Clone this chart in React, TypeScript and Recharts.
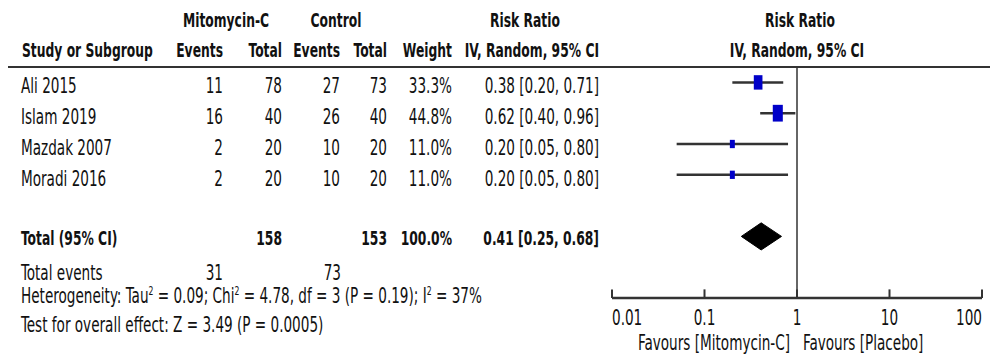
import React from 'react';
import {
  ComposedChart,
  XAxis,
  YAxis,
  Scatter,
  ErrorBar,
  Area,
  ReferenceLine,
} from 'recharts';

// study rows
const studies = ['Ali 2015', 'Islam 2019', 'Mazdak 2007', 'Moradi 2016'];
const mmcEvents = [11, 16, 2, 2];
const mmcTotal = [78, 40, 20, 20];
const ctrlEvents = [27, 26, 10, 10];
const ctrlTotal = [73, 40, 20, 20];
const weights = [33.3, 44.8, 11.0, 11.0];
const riskRatio = [0.38, 0.62, 0.2, 0.2];
const ciLow = [0.2, 0.4, 0.05, 0.05];
const ciHigh = [0.71, 0.96, 0.8, 0.8];

// pooled result
const totalMmc = 158;
const totalCtrl = 153;
const totalWeight = '100.0%';
const totalRR = 0.41;
const totalLow = 0.25;
const totalHigh = 0.68;
const totalEventsMmc = 31;
const totalEventsCtrl = 73;

// axis
const xTicks = [0.01, 0.1, 1, 10, 100];
const xTickLabels = ['0.01', '0.1', '1', '10', '100'];

const FONT = "'DejaVu Sans Condensed', 'DejaVu Sans', sans-serif";
const INK = '#111';
const LINE = '#333';
const TOTAL_ROW = 5;
const DIAMOND_HALF = 0.44;
// the source font is a narrow one, so squeeze the text horizontally
const SX = 0.72;
const SX_BOLD = 0.685;

const fmt = (v: number) => v.toFixed(2);

const studyPoints = studies.map((s, i) => ({
  x: riskRatio[i],
  y: i,
  weight: weights[i],
  err: [riskRatio[i] - ciLow[i], ciHigh[i] - riskRatio[i]],
}));

const diamond = [
  { x: totalLow, band: [TOTAL_ROW, TOTAL_ROW] },
  { x: totalRR, band: [TOTAL_ROW - DIAMOND_HALF, TOTAL_ROW + DIAMOND_HALF] },
  { x: totalHigh, band: [TOTAL_ROW, TOTAL_ROW] },
];

const WeightBox = (props: any) => {
  const { cx, cy, payload } = props;
  const h = 2.5 * Math.sqrt(payload.weight);
  const w = h * 0.6;
  return <rect x={cx - w / 2} y={cy - h / 2} width={w} height={h} fill="#0000c8" />;
};

const T = ({ x, y, anchor = 'start', bold = false, children }: any) => (
  <text
    transform={`translate(${x} ${y}) scale(${bold ? SX_BOLD : SX} 1)`}
    x={0}
    y={0}
    textAnchor={anchor}
    fontFamily={FONT}
    fontStretch="condensed"
    fontSize={bold ? 20 : 21}
    fontWeight={bold ? 'bold' : 'normal'}
    fill={INK}
  >
    {children}
  </text>
);

const AxisTick = (props: any) => {
  const { x, y, index } = props;
  const anchor = index === 0 ? 'start' : index === xTicks.length - 1 ? 'end' : 'middle';
  return (
    <T x={x} y={y + 27} anchor={anchor}>
      {xTickLabels[index]}
    </T>
  );
};

const colEnds = [223, 282, 340, 387, 452, 599];

export default function App() {
  return (
    <div style={{ position: 'absolute', left: 0, top: 0, width: 1000, height: 363, background: '#fff' }}>
      <ComposedChart
        width={1000}
        height={363}
        margin={{ top: 67, right: 18, bottom: 0, left: 612 }}
      >
        <XAxis
          type="number"
          dataKey="x"
          scale="log"
          domain={[0.01, 100]}
          ticks={xTicks}
          allowDataOverflow
          height={65}
          tickLine={false}
          tickSize={0}
          tickMargin={0}
          axisLine={{ stroke: LINE, strokeWidth: 2.5 }}
          tick={<AxisTick />}
          interval={0}
        />
        <YAxis type="number" dataKey="y" domain={[-0.5, 7]} reversed hide allowDataOverflow />
        {xTicks.map((t) => (
          <ReferenceLine
            key={t}
            segment={[{ x: t, y: 7 }, { x: t, y: 6.72 }]}
            stroke={LINE}
            strokeWidth={2}
          />
        ))}
        <ReferenceLine x={1} stroke={LINE} strokeWidth={1.5} />
        <Area
          data={diamond}
          dataKey="band"
          type="linear"
          fill="#000"
          fillOpacity={1}
          stroke="#000"
          strokeWidth={1}
          isAnimationActive={false}
        />
        <Scatter data={studyPoints} shape={<WeightBox />} isAnimationActive={false}>
          <ErrorBar dataKey="err" direction="x" width={0} stroke={LINE} strokeWidth={2.5} />
        </Scatter>
      </ComposedChart>

      <svg
        width={1000}
        height={363}
        style={{ position: 'absolute', left: 0, top: 0, pointerEvents: 'none' }}
      >
        <T x={226} y={27} anchor="middle" bold>Mitomycin-C</T>
        <T x={336} y={27} anchor="middle" bold>Control</T>
        <T x={525} y={27} anchor="middle" bold>Risk Ratio</T>
        <T x={800} y={27} anchor="middle" bold>Risk Ratio</T>

        <T x={22} y={57} bold>Study or Subgroup</T>
        <T x={colEnds[0]} y={57} anchor="end" bold>Events</T>
        <T x={colEnds[1]} y={57} anchor="end" bold>Total</T>
        <T x={colEnds[2]} y={57} anchor="end" bold>Events</T>
        <T x={colEnds[3]} y={57} anchor="end" bold>Total</T>
        <T x={colEnds[4]} y={57} anchor="end" bold>Weight</T>
        <T x={colEnds[5]} y={57} anchor="end" bold>IV, Random, 95% CI</T>
        <T x={797} y={57} anchor="middle" bold>IV, Random, 95% CI</T>

        <line x1={8} x2={990} y1={67} y2={67} stroke={LINE} strokeWidth={2} />

        {studies.map((s, i) => {
          const y = 93 + 31 * i;
          return (
            <g key={s}>
              <T x={21} y={y}>{s}</T>
              <T x={colEnds[0]} y={y} anchor="end">{mmcEvents[i]}</T>
              <T x={colEnds[1]} y={y} anchor="end">{mmcTotal[i]}</T>
              <T x={colEnds[2]} y={y} anchor="end">{ctrlEvents[i]}</T>
              <T x={colEnds[3]} y={y} anchor="end">{ctrlTotal[i]}</T>
              <T x={colEnds[4]} y={y} anchor="end">{weights[i].toFixed(1)}%</T>
              <T x={colEnds[5]} y={y} anchor="end">
                {fmt(riskRatio[i])} [{fmt(ciLow[i])}, {fmt(ciHigh[i])}]
              </T>
            </g>
          );
        })}

        <T x={21} y={245} bold>Total (95% CI)</T>
        <T x={colEnds[1]} y={245} anchor="end" bold>{totalMmc}</T>
        <T x={colEnds[3]} y={245} anchor="end" bold>{totalCtrl}</T>
        <T x={colEnds[4]} y={245} anchor="end" bold>{totalWeight}</T>
        <T x={colEnds[5]} y={245} anchor="end" bold>
          {fmt(totalRR)} [{fmt(totalLow)}, {fmt(totalHigh)}]
        </T>

        <T x={21} y={280}>Total events</T>
        <T x={colEnds[0]} y={280} anchor="end">{totalEventsMmc}</T>
        <T x={341} y={280} anchor="end">{totalEventsCtrl}</T>

        <T x={21} y={303}>
          Heterogeneity: Tau<tspan fontSize={12} dy={-8}>2</tspan>
          <tspan dy={8}> = 0.09; Chi</tspan>
          <tspan fontSize={12} dy={-8}>2</tspan>
          <tspan dy={8}> = 4.78, df = 3 (P = 0.19); I</tspan>
          <tspan fontSize={12} dy={-8}>2</tspan>
          <tspan dy={8}> = 37%</tspan>
        </T>
        <T x={21} y={332}>Test for overall effect: Z = 3.49 (P = 0.0005)</T>

        <T x={790} y={350} anchor="end">Favours [Mitomycin-C]</T>
        <T x={803} y={350}>Favours [Placebo]</T>
      </svg>
    </div>
  );
}
